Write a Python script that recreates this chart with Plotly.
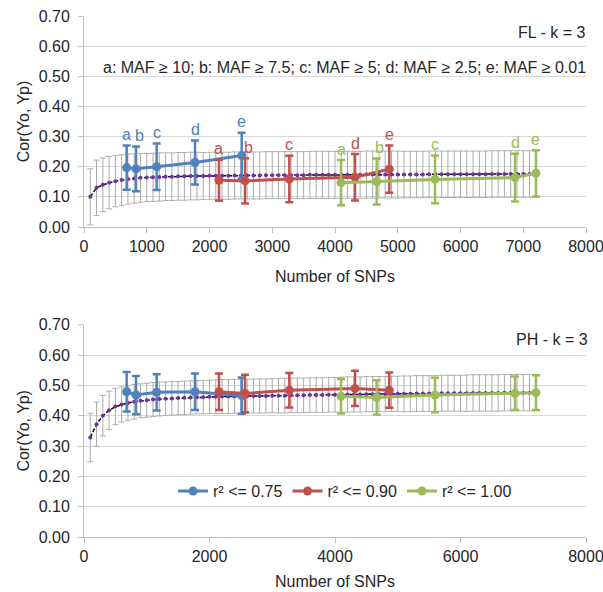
import plotly.graph_objects as go

# ---------------- data ----------------
snp = list(range(100, 7300, 100))

fl_mean = [0.100, 0.130, 0.140, 0.147, 0.152, 0.156, 0.159, 0.161, 0.163, 0.164,
           0.165, 0.166, 0.167, 0.167, 0.168, 0.168, 0.169, 0.169, 0.169, 0.170,
           0.170, 0.170, 0.170, 0.171, 0.171, 0.171, 0.171, 0.171, 0.172, 0.172,
           0.172, 0.172, 0.172, 0.172, 0.172, 0.173, 0.173, 0.173, 0.173, 0.173,
           0.173, 0.173, 0.173, 0.173, 0.174, 0.174, 0.174, 0.174, 0.174, 0.174,
           0.174, 0.174, 0.174, 0.174, 0.175, 0.175, 0.175, 0.175, 0.175, 0.175,
           0.175, 0.175, 0.175, 0.175, 0.176, 0.176, 0.176, 0.176, 0.176, 0.176, 0.176, 0.176]
fl_err = [0.093, 0.092, 0.089, 0.087, 0.085, 0.084, 0.083, 0.082, 0.081, 0.080,
          0.080, 0.080, 0.079, 0.079, 0.079, 0.079, 0.079, 0.079, 0.078, 0.078,
          0.078, 0.078, 0.078, 0.078, 0.078, 0.078, 0.078, 0.078, 0.078, 0.078,
          0.078, 0.078, 0.078, 0.078, 0.078, 0.078, 0.078, 0.078, 0.078, 0.078,
          0.078, 0.078, 0.078, 0.078, 0.078, 0.078, 0.078, 0.078, 0.078, 0.078,
          0.077, 0.077, 0.077, 0.077, 0.077, 0.077, 0.077, 0.077, 0.077, 0.077,
          0.077, 0.077, 0.077, 0.077, 0.077, 0.077, 0.077, 0.077, 0.077, 0.077, 0.077, 0.077]

ph_mean = [0.328, 0.372, 0.400, 0.418, 0.430, 0.437, 0.442, 0.446, 0.449, 0.451,
           0.453, 0.455, 0.456, 0.457, 0.458, 0.459, 0.460, 0.461, 0.461, 0.462,
           0.462, 0.463, 0.463, 0.464, 0.464, 0.464, 0.465, 0.465, 0.465, 0.466,
           0.466, 0.466, 0.467, 0.467, 0.467, 0.468, 0.468, 0.468, 0.469, 0.469,
           0.469, 0.470, 0.470, 0.470, 0.471, 0.471, 0.471, 0.471, 0.472, 0.472,
           0.472, 0.472, 0.473, 0.473, 0.473, 0.473, 0.474, 0.474, 0.474, 0.474,
           0.474, 0.475, 0.475, 0.475, 0.475, 0.475, 0.476, 0.476, 0.476, 0.476, 0.476, 0.476]
ph_err = [0.080, 0.073, 0.067, 0.063, 0.060, 0.058, 0.057, 0.057, 0.056, 0.056,
          0.056, 0.056, 0.055, 0.055, 0.055, 0.055, 0.055, 0.055, 0.055, 0.055,
          0.056, 0.056, 0.056, 0.056, 0.056, 0.056, 0.056, 0.056, 0.056, 0.056,
          0.057, 0.057, 0.057, 0.057, 0.057, 0.057, 0.057, 0.057, 0.057, 0.057,
          0.058, 0.058, 0.058, 0.058, 0.058, 0.058, 0.058, 0.058, 0.058, 0.058,
          0.059, 0.059, 0.059, 0.059, 0.059, 0.059, 0.059, 0.059, 0.059, 0.059,
          0.060, 0.060, 0.060, 0.060, 0.060, 0.060, 0.060, 0.060, 0.060, 0.060, 0.060, 0.060]

maf_letters = ["a", "b", "c", "d", "e"]

blue_x = [680, 829, 1158, 1769, 2513]
red_x = [2151, 2566, 3272, 4319, 4865]
green_x = [4096, 4664, 5594, 6869, 7203]

fl_blue = [0.197, 0.193, 0.200, 0.214, 0.237]
fl_blue_err = [0.073, 0.074, 0.077, 0.073, 0.076]
fl_red = [0.155, 0.153, 0.159, 0.165, 0.192]
fl_red_err = [0.068, 0.075, 0.077, 0.077, 0.078]
fl_green = [0.147, 0.151, 0.158, 0.164, 0.178]
fl_green_err = [0.075, 0.076, 0.079, 0.079, 0.077]

ph_blue = [0.479, 0.468, 0.477, 0.479, 0.466]
ph_blue_err = [0.065, 0.063, 0.060, 0.060, 0.060]
ph_red = [0.479, 0.473, 0.484, 0.490, 0.484]
ph_red_err = [0.060, 0.062, 0.057, 0.058, 0.058]
ph_green = [0.464, 0.460, 0.468, 0.474, 0.476]
ph_green_err = [0.057, 0.057, 0.057, 0.055, 0.057]

series_names = ["r² <= 0.75", "r² <= 0.90", "r² <= 1.00"]
colors = ["#4F81BD", "#C0504D", "#9BBB59"]

# ---------------- figure ----------------
FONT = "Liberation Sans, Arial, sans-serif"
TXT = "#262626"
FS = 16
fig = go.Figure()


def add_panel(xa, ya, mean, err, groups, show_legend):
    fig.add_trace(go.Scatter(
        x=snp, y=mean, mode="lines+markers", xaxis=xa, yaxis=ya,
        line=dict(color="black", width=1.5, dash="4px,2px"),
        marker=dict(color="#7030A0", size=4),
        error_y=dict(type="data", array=err, color="#ABABAB", thickness=1, width=3),
        showlegend=False, hoverinfo="skip"))
    for (gx, gy, ge), name, col in zip(groups, series_names, colors):
        fig.add_trace(go.Scatter(
            x=gx, y=gy, mode="lines+markers", name=name, xaxis=xa, yaxis=ya,
            line=dict(color=col, width=3),
            marker=dict(color=col, size=9),
            error_y=dict(type="data", array=ge, color=col, thickness=2.5, width=4),
            showlegend=show_legend))


add_panel("x", "y", fl_mean, fl_err,
          [(blue_x, fl_blue, fl_blue_err), (red_x, fl_red, fl_red_err),
           (green_x, fl_green, fl_green_err)], False)
add_panel("x2", "y2", ph_mean, ph_err,
          [(blue_x, ph_blue, ph_blue_err), (red_x, ph_red, ph_red_err),
           (green_x, ph_green, ph_green_err)], True)

annotations = []
for gx, gy, ge, col in [(blue_x, fl_blue, fl_blue_err, colors[0]),
                        (red_x, fl_red, fl_red_err, colors[1]),
                        (green_x, fl_green, fl_green_err, colors[2])]:
    for lx, ly, le, lt in zip(gx, gy, ge, maf_letters):
        annotations.append(dict(
            x=lx, y=ly + le, xref="x", yref="y", text=lt, showarrow=False,
            yanchor="middle", xanchor="center", yshift=11, xshift=3 if lt == "b" else 0,
            font=dict(family=FONT, size=FS, color=col)))

annotations += [
    dict(x=8000, y=0.645, xref="x", yref="y", text="FL - k = 3", showarrow=False,
         xanchor="right", yanchor="middle", xshift=2, font=dict(family=FONT, size=FS, color=TXT)),
    dict(x=8000, y=0.528, xref="x", yref="y",
         text="a: MAF ≥ 10; b: MAF ≥ 7.5; c: MAF ≥ 5; d: MAF ≥ 2.5; e: MAF ≥ 0.01",
         showarrow=False, xanchor="right", yanchor="middle", xshift=2,
         font=dict(family=FONT, size=FS, color=TXT)),
    dict(x=8000, y=0.651, xref="x2", yref="y2", text="PH - k = 3", showarrow=False,
         xanchor="right", yanchor="middle", xshift=4,
         font=dict(family=FONT, size=FS, color=TXT)),
]

axis_common = dict(
    showline=True, linecolor="#BFBFBF", linewidth=1,
    ticks="outside", ticklen=5, tickcolor="#BFBFBF",
    tickfont=dict(family=FONT, size=FS, color=TXT),
    zeroline=False, automargin=False, ticklabeloverflow="allow",
)

fig.update_layout(
    width=603, height=592,
    margin=dict(l=84, r=17, t=16, b=55),
    paper_bgcolor="white", plot_bgcolor="white",
    font=dict(family=FONT, size=FS, color=TXT),
    xaxis=dict(domain=[0, 1], anchor="y", range=[0, 8000], dtick=1000, showgrid=False,
               title=dict(text="Number of SNPs", standoff=16, font=dict(size=FS)),
               **axis_common),
    yaxis=dict(domain=[0.595, 1], anchor="x", range=[0, 0.7], dtick=0.1, tickformat=".2f",
               showgrid=True, gridcolor="#D9D9D9", ticklabelstandoff=5,
               title=dict(text="Cor(Yo, Yp)", standoff=5, font=dict(size=FS)),
               **axis_common),
    xaxis2=dict(domain=[0, 1], anchor="y2", range=[0, 8000], dtick=2000, showgrid=False,
                title=dict(text="Number of SNPs", standoff=11, font=dict(size=FS)),
                **axis_common),
    yaxis2=dict(domain=[0, 0.4075], anchor="x2", range=[0, 0.7], dtick=0.1, tickformat=".2f",
                showgrid=True, gridcolor="#D9D9D9", ticklabelstandoff=5,
                title=dict(text="Cor(Yo, Yp)", standoff=5, font=dict(size=FS)),
                **axis_common),
    legend=dict(orientation="h", x=0.52, y=0.088, xanchor="center", yanchor="middle",
                bgcolor="rgba(255,255,255,0)", font=dict(family=FONT, size=FS, color=TXT),
                itemwidth=30, tracegroupgap=0),
    annotations=annotations,
)

fig.write_html("out.html", config={"displayModeBar": False},
               post_script="document.body.style.margin='0';")
